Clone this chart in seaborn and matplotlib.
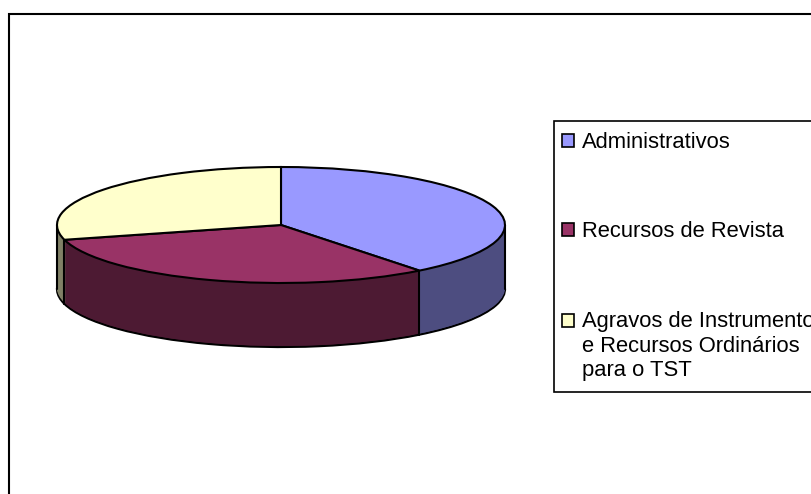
#!/usr/bin/env python3
import matplotlib
matplotlib.use("Agg")
import matplotlib.pyplot as plt
from matplotlib.legend_handler import HandlerPatch
from matplotlib.patches import Patch, Rectangle
import numpy as np
import seaborn as sns

# Dados da pizza (em %)
labels = ["Administrativos", "Recursos de Revista",
          "Agravos de Instrumentos\ne Recursos Ordinários\npara o TST"]
values = [39.4, 31.5, 29.1]
top_colors = ["#9999FF", "#993366", "#FFFFCC"]
side_colors = ["#4D4D80", "#4D1A33", "#808066"]

sns.set_theme(style="white")
plt.rcParams['font.family'] = ['Liberation Sans', 'DejaVu Sans']

W, H = 811, 494
cx, cy = 281, 225     # centro da elipse em pixels
a, b = 224, 58        # semi-eixos
depth_px = 64
depth = depth_px / b

fig = plt.figure(figsize=(W / 100, H / 100), dpi=100)
fig.patch.set_facecolor("white")
ax = fig.add_axes([0, 0, 1, 1])

# Parede lateral: pizzas empilhadas de baixo para cima
ax.pie(values, colors=side_colors, startangle=90, counterclock=False,
       center=(0, -depth), wedgeprops=dict(edgecolor="black", linewidth=1.6))
for d in np.linspace(depth, 0, depth_px + 1)[1:]:
    ax.pie(values, colors=side_colors, startangle=90, counterclock=False,
           center=(0, -d), wedgeprops=dict(linewidth=0))

# Contornos verticais (silhueta e divisões visíveis)
seam_line = dict(color="black", linewidth=1.5, zorder=5)
ax.plot([-1, -1], [0, -depth], **seam_line)
ax.plot([1, 1], [0, -depth], **seam_line)
angles = np.cumsum(values) / np.sum(values) * 2 * np.pi
for t in angles[:2]:
    ax.plot([np.sin(t)] * 2, [np.cos(t), np.cos(t) - depth], **seam_line)

# Face superior
ax.pie(values, colors=top_colors, startangle=90, counterclock=False,
       center=(0, 0), wedgeprops=dict(edgecolor="black", linewidth=1.5))
for w in ax.patches[-3:]:
    w.set_zorder(6)

ax.set_aspect("auto")
ax.set_xlim(-cx / a, (W - cx) / a)
ax.set_ylim(-(H - cy) / b, cy / b)
ax.axis("off")

# Moldura externa (cortada à direita e embaixo)
fig.add_artist(Rectangle((9 / W, -0.1), 1.2, 1.1 - 14 / H, transform=fig.transFigure,
                         fill=False, edgecolor="black", linewidth=1.5))


def shifted_patch(legend, orig_handle, xdescent, ydescent, width, height, fontsize):
    # quadradinho um pouco mais perto da borda da legenda
    return Rectangle((-xdescent - 0.14 * fontsize, -ydescent), width, height)


def first_line_patch(legend, orig_handle, xdescent, ydescent, width, height, fontsize):
    # quadradinho na altura da primeira linha do rótulo de três linhas
    return Rectangle((-xdescent - 0.14 * fontsize, -ydescent + 1.19 * fontsize), width, height)


handles = [Patch(facecolor=c, edgecolor="black", linewidth=1.2) for c in top_colors]
leg = ax.legend(handles, labels, loc="upper left",
                bbox_to_anchor=(554 / W, 1 - 121 / H), bbox_transform=fig.transFigure,
                borderaxespad=0, fontsize=15.8, frameon=True, fancybox=False,
                edgecolor="black", framealpha=1, labelspacing=3.12, borderpad=0.5,
                handlelength=0.55, handleheight=0.55, handletextpad=0.22,
                labelcolor="black",
                handler_map={handles[0]: HandlerPatch(patch_func=shifted_patch),
                             handles[1]: HandlerPatch(patch_func=shifted_patch),
                             handles[2]: HandlerPatch(patch_func=first_line_patch)})
leg.get_frame().set_linewidth(1.2)
leg.set_zorder(10)
for txt in leg.get_texts():
    txt.set_linespacing(1.23)

fig.savefig("out.png", dpi=100)
